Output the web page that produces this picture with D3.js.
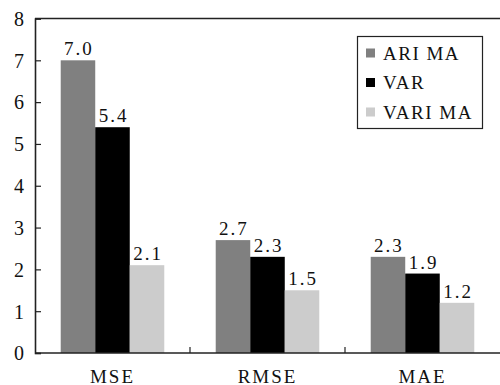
<!DOCTYPE html>
<html>
<head>
<meta charset="utf-8">
<script src="https://cdn.jsdelivr.net/npm/d3@7/dist/d3.min.js"></script>
<style>
  html, body { margin: 0; padding: 0; background: #fff; }
  svg { display: block; }
  svg text { font-family: "Liberation Serif", "Times New Roman", serif !important; fill: #111; }
</style>
</head>
<body>
<svg id="chart" width="500" height="385" font-family="Liberation Serif"></svg>
<script>
// Error metrics per model
const categories = ["MSE", "RMSE", "MAE"];
const seriesNames = ["ARIMA", "VAR", "VARIMA"];
const legendLabels = ["ARI MA", "VAR", "VARI MA"];
const arimaValues = [7.0, 2.7, 2.3];
const varValues = [5.4, 2.3, 1.9];
const varimaValues = [2.1, 1.5, 1.2];
const yTicks = [0, 1, 2, 3, 4, 5, 6, 7, 8];

const seriesValues = [arimaValues, varValues, varimaValues];
const colors = ["#808080", "#000000", "#cccccc"];

const svg = d3.select("#chart");
const plotLeft = 35, plotRight = 500, plotTop = 18.5, plotBottom = 353;

const x0 = d3.scaleBand().domain(categories).range([plotLeft, plotRight]).paddingInner(0).paddingOuter(0);
const x1 = d3.scaleBand().domain(seriesNames).range([0, x0.bandwidth()]).paddingInner(0).paddingOuter(0.745);
const y = d3.scaleLinear().domain([0, 8]).range([plotBottom, plotTop]);
const color = d3.scaleOrdinal().domain(seriesNames).range(colors);

const rows = categories.map((c, i) => ({
  cat: c,
  vals: seriesNames.map((s, j) => ({ series: s, value: seriesValues[j][i] }))
}));

// Bars
const groups = svg.append("g").selectAll("g").data(rows).join("g")
  .attr("transform", d => `translate(${x0(d.cat)},0)`);

groups.selectAll("rect").data(d => d.vals).join("rect")
  .attr("x", d => x1(d.series))
  .attr("y", d => y(d.value))
  .attr("width", x1.bandwidth())
  .attr("height", d => y(0) - y(d.value))
  .attr("fill", d => color(d.series));

// Value labels
groups.selectAll("text").data(d => d.vals).join("text")
  .attr("x", d => x1(d.series) + x1.bandwidth() / 2 + 1)
  .attr("y", d => y(d.value) - 5)
  .attr("text-anchor", "middle")
  .style("font-size", "19px")
  .style("letter-spacing", "2px")
  .text(d => d.value.toFixed(1));

// Y axis (ticks inward)
const yAxis = svg.append("g").attr("transform", `translate(${plotLeft},0)`)
  .call(d3.axisLeft(y).tickValues(yTicks).tickSize(-6).tickPadding(11).tickFormat(d3.format("d")));
yAxis.attr("font-family", null).attr("font-size", null);
yAxis.select(".domain").attr("stroke", "#222").attr("stroke-width", 1.6);
yAxis.selectAll(".tick line").attr("stroke", "#222").attr("stroke-width", 1.2);
yAxis.selectAll(".tick text")
  .style("font-size", "20px")
  .attr("dy", "0.34em");

// X axis (boundary ticks inward)
svg.append("line").attr("x1", plotLeft).attr("x2", plotRight).attr("y1", plotBottom).attr("y2", plotBottom)
  .attr("stroke", "#222").attr("stroke-width", 1.6);
svg.append("g").selectAll("line").data(categories.slice(1)).join("line")
  .attr("x1", d => x0(d)).attr("x2", d => x0(d))
  .attr("y1", plotBottom).attr("y2", plotBottom - 6)
  .attr("stroke", "#222").attr("stroke-width", 1.2);
svg.append("g").selectAll("text").data(categories).join("text")
  .attr("x", d => x0(d) + x0.bandwidth() / 2)
  .attr("y", 383)
  .attr("text-anchor", "middle")
  .style("font-size", "19px")
  .style("letter-spacing", "2px")
  .text(d => d);

// Top frame line
svg.append("line").attr("x1", plotLeft).attr("x2", plotRight).attr("y1", plotTop).attr("y2", plotTop)
  .attr("stroke", "#222").attr("stroke-width", 1.6);

// Legend
const legend = svg.append("g");
legend.append("rect").attr("x", 357.5).attr("y", 36.5).attr("width", 125).attr("height", 92)
  .attr("fill", "#fff").attr("stroke", "#222").attr("stroke-width", 1.2);
const items = legend.selectAll("g").data(seriesNames).join("g")
  .attr("transform", (d, i) => `translate(366, ${53 + i * 29.5})`);
items.append("rect").attr("x", 0).attr("y", -4.5).attr("width", 9).attr("height", 9)
  .attr("fill", d => color(d));
items.append("text").attr("x", 17).attr("y", 6.5)
  .style("font-size", "19px")
  .style("letter-spacing", "1.5px")
  .text((d, i) => legendLabels[i]);
</script>
</body>
</html>
